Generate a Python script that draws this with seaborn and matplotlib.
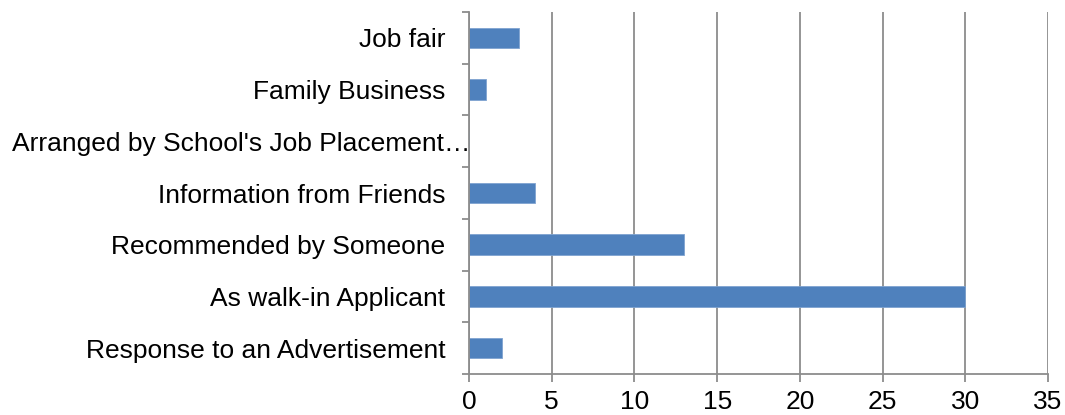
import matplotlib
matplotlib.use("Agg")
import matplotlib.pyplot as plt
import matplotlib.transforms as mtransforms
import seaborn as sns
import pandas as pd
import numpy as np

categories = ["Job fair", "Family Business", "Arranged by School's Job Placement…",
              "Information from Friends", "Recommended by Someone",
              "As walk-in Applicant", "Response to an Advertisement"]
values = [3, 1, 0, 4, 13, 30, 2]
xticks = [0, 5, 10, 15, 20, 25, 30, 35]

sns.set_theme(style="white")
plt.rcParams['font.family'] = ['Liberation Sans', 'DejaVu Sans']
plt.rcParams['text.color'] = 'black'
plt.rcParams['xtick.color'] = 'black'
plt.rcParams['ytick.color'] = 'black'

df = pd.DataFrame({"cat": categories, "val": values})
fig = plt.figure(figsize=(10.65, 4.15), dpi=100)
ax = fig.add_axes([0.4404, 0.0988, 0.5436, 0.8722])
sns.barplot(data=df, y="cat", x="val", orient="h", color="#4F81BD",
            saturation=1, width=0.4, edgecolor="#7FA3D0", linewidth=0.6, ax=ax)
ax.set_xlim(0, 35)
ax.set_ylim(len(categories) - 0.5, -0.5)
ax.set_xticks(xticks)
ax.set_xticklabels([str(t) for t in xticks], fontsize=19)
ax.xaxis.grid(True, color="#8C8C8C", linewidth=1.3)
ax.set_axisbelow(True)
ax.set_xlabel("")
ax.set_ylabel("")
for s in ["top", "right"]:
    ax.spines[s].set_visible(False)
for s in ["left", "bottom"]:
    ax.spines[s].set_color("#8C8C8C")
    ax.spines[s].set_linewidth(1.3)
ax.tick_params(axis="x", which="major", direction="out", length=5.8, width=1.3,
               color="#8C8C8C", labelcolor="black", pad=6, bottom=True)
ax.set_yticks(range(len(categories)))
ax.set_yticklabels(categories, fontsize=19, color="black")
ax.tick_params(axis="y", which="major", length=0, pad=17)
ax.set_yticks(np.arange(-0.5, len(categories), 1), minor=True)
ax.tick_params(axis="y", which="minor", direction="out", length=5, width=1.3,
               color="#8C8C8C", left=True)
# the truncated label sits closer to the axis in the reference
lbl = ax.get_yticklabels()[2]
lbl.set_transform(lbl.get_transform() + mtransforms.ScaledTranslation(0.25, 0, fig.dpi_scale_trans))
fig.savefig("out.png", dpi=100)
